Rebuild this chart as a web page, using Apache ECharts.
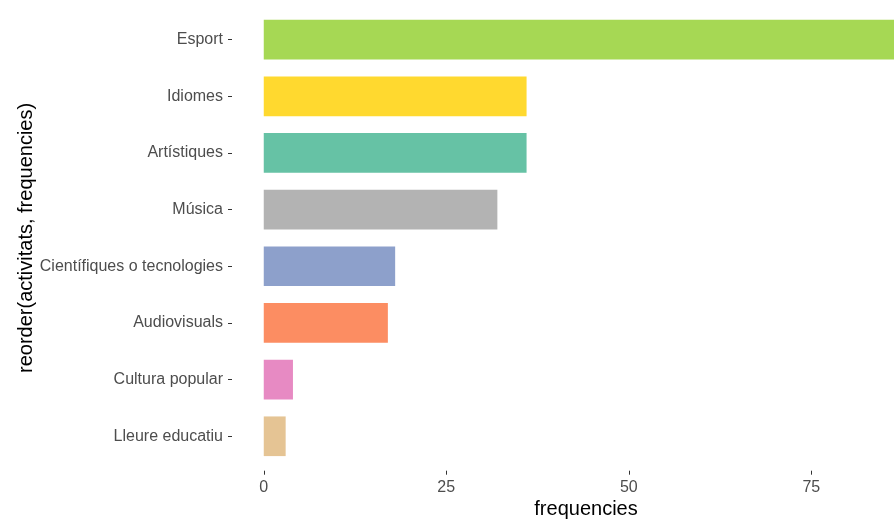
<!DOCTYPE html>
<html>
<head>
<meta charset="utf-8">
<script src="https://cdn.jsdelivr.net/npm/echarts@6/dist/echarts.min.js"></script>
<style>html,body{margin:0;padding:0;background:#fff;}#c{width:894px;height:521px;}</style>
</head>
<body>
<div id="c"></div>
<script>
// categories listed top to bottom
var categories = ['Esport', 'Idiomes', 'Artístiques', 'Música', 'Científiques o tecnologies', 'Audiovisuals', 'Cultura popular', 'Lleure educatiu'];
var frequencies = [87, 36, 36, 32, 18, 17, 4, 3];
var barColors = ['#A6D854', '#FFD92F', '#66C2A5', '#B3B3B3', '#8DA0CB', '#FC8D62', '#E78AC3', '#E5C494'];
var xTicks = [0, 25, 50, 75];

var xMin = -4.35, xMax = 86.33;
var font = '"Liberation Sans", Arial, sans-serif';
var chart = echarts.init(document.getElementById('c'), null, {renderer: 'canvas'});
chart.setOption({
  animation: false,
  backgroundColor: '#ffffff',
  grid: [
    {left: 232, right: 0, top: 11.3, bottom: 521 - 464.6, containLabel: false},
    {left: 232, right: 0, top: 469.7, height: 1, containLabel: false}
  ],
  xAxis: [
    {
      type: 'value', gridIndex: 0, min: xMin, max: xMax,
      axisLine: {show: false, onZero: false}, axisTick: {show: false}, axisLabel: {show: false}, splitLine: {show: false}
    },
    {
      type: 'value', gridIndex: 1, min: xMin, max: xMax, position: 'bottom',
      name: 'frequencies',
      nameLocation: 'middle',
      nameGap: 29,
      nameMoveOverlap: false,
      nameTextStyle: {color: '#000', fontSize: 20, fontFamily: font, padding: [0, 0, 0, 46]},
      axisLine: {show: false, onZero: false},
      axisTick: {show: true, length: 4, customValues: xTicks, lineStyle: {color: '#333333', width: 1}},
      splitLine: {show: false},
      axisLabel: {color: '#4D4D4D', fontSize: 16, fontFamily: font, margin: 9, customValues: xTicks}
    }
  ],
  yAxis: [
    {
      type: 'category', gridIndex: 0,
      data: categories,
      inverse: true,
      position: 'left',
      name: 'reorder(activitats, frequencies)',
      nameLocation: 'middle',
      nameGap: 196,
      nameMoveOverlap: false,
      nameTextStyle: {color: '#000', fontSize: 20, fontFamily: font},
      axisLine: {show: false, onZero: false},
      axisTick: {show: true, length: 4, alignWithLabel: true, lineStyle: {color: '#333333', width: 1}},
      splitLine: {show: false},
      axisLabel: {color: '#4D4D4D', fontSize: 16, fontFamily: font, margin: 9, padding: [5, 0, 0, 0]}
    },
    {type: 'value', gridIndex: 1, show: false, axisLine: {onZero: false}}
  ],
  series: [{
    type: 'bar',
    xAxisIndex: 0, yAxisIndex: 0,
    barWidth: '70%',
    data: frequencies.map(function (v, i) { return {value: v, itemStyle: {color: barColors[i]}}; })
  }]
});
</script>
</body>
</html>
